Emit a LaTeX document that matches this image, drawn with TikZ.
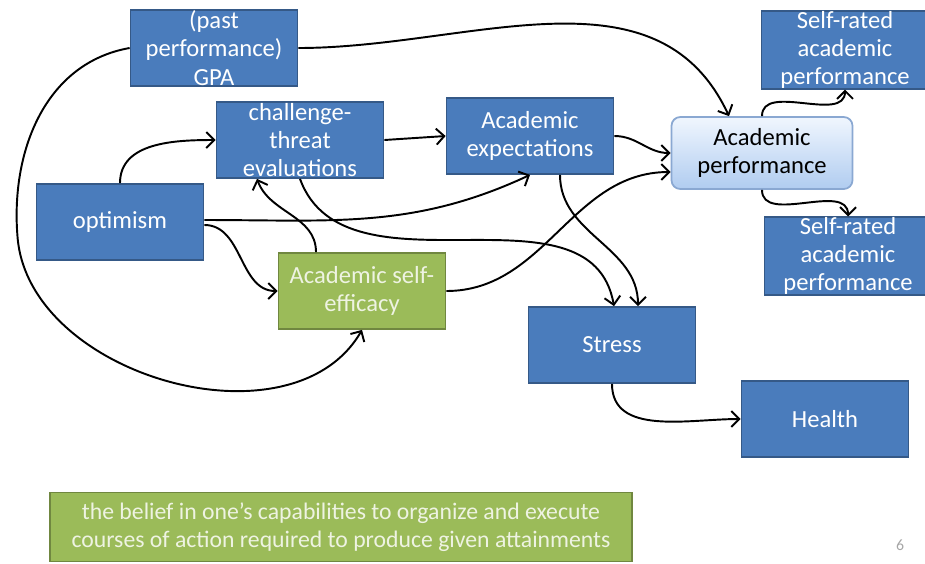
\documentclass[tikz,border=0pt]{standalone}
\usepackage{fontspec}
\setmainfont{Carlito}
\usepackage{tikz}
\usetikzlibrary{arrows.meta, positioning, shadings}
\definecolor{boxblue}{RGB}{74,124,188}
\definecolor{boxgreen}{RGB}{155,187,89}
\definecolor{paletext}{RGB}{238,243,226}
\definecolor{perftop}{RGB}{240,246,254}
\definecolor{perfbottom}{RGB}{176,204,240}
\definecolor{perfline}{RGB}{138,168,210}

\begin{document}
\begin{tikzpicture}[
    x=0.2mm, y=-0.2mm,
    every node/.style={font=\fontsize{14}{16}\selectfont},
    block/.style={rectangle, draw=#1!72!black, fill=#1, line width=1pt, minimum width=3.34cm, minimum height=1.52cm, inner sep=0pt, align=center, text=white},
    perfbox/.style={rectangle, rounded corners=5pt, draw=perfline, line width=1pt, top color=perftop, bottom color=perfbottom, minimum width=3.62cm, minimum height=1.44cm, inner sep=0pt, align=center, text=black},
    arrow/.style={-{Straight Barb[length=1.6mm,width=3.2mm]}, line width=1.1pt}
]
\useasboundingbox (0,0) rectangle (925,563);
\clip (0,0) rectangle (925,563);

\node[block=boxblue] (gpa) at (214,48) {(past\\performance)\\GPA};
\node[block=boxblue] (threat) at (300,140) {challenge-\\threat\\evaluations};
\node[block=boxblue] (optimism) at (120,222) {optimism};
\node[block=boxblue] (expect) at (530,136) {Academic\\expectations};
\node[perfbox] (perf) at (762,153) {Academic\\performance};
\node[block=boxblue] (selftop) at (845,50) {Self-rated\\academic\\performance};
\node[block=boxblue] (selfbot) at (848,256) {Self-rated\\academic\\performance};
\node[block=boxgreen, text=paletext] (efficacy) at (362,291) {Academic self-\\efficacy};
\node[block=boxblue] (stress) at (612,345) {Stress};
\node[block=boxblue] (health) at (825,419) {Health};

\node[block=boxgreen, text=paletext, minimum width=11.64cm, minimum height=1.38cm, font=\fontsize{13.5}{16}\selectfont] (belief) at (341,527)
    {the belief in one's capabilities to organize and execute\\courses of action required to produce given attainments};
\node[text=gray!70, font=\fontsize{9}{10}\selectfont] (pagenum) at (900,545) {6};

\draw[arrow] (gpa.west) to[out=190,in=95] ++(-112,190) to[out=-85,in=-120] (efficacy.south);
\draw[arrow] (gpa.east) to[out=0,in=115] ([xshift=-0.66cm]perf.north);
\draw[arrow] (optimism.north) to[out=90,in=180] (threat.west);
\draw[arrow] ([yshift=0.04cm]optimism.east) to[out=0,in=-155] (expect.south);
\draw[arrow] ([yshift=-0.06cm]optimism.east) to[out=0,in=180] (efficacy.west);
\draw[arrow] ([xshift=-0.92cm]efficacy.north) to[out=90,in=-70] ([xshift=-0.86cm]threat.south);
\draw[arrow] (threat.east) -- (expect.west);
\draw[arrow] (threat.south) to[out=-70,in=100] ([xshift=0.04cm]stress.north);
\draw[arrow] ([xshift=0.6cm]expect.south) to[out=-90,in=90] ([xshift=0.52cm]stress.north);
\draw[arrow] (expect.east) to[out=0,in=180] (perf.west);
\draw[arrow] (efficacy.east) to[out=0,in=180] ([yshift=-0.38cm]perf.west);
\draw[arrow] (perf.north) to[out=90,in=-90] (selftop.south);
\draw[arrow] (perf.south) to[out=-90,in=90] (selfbot.north);
\draw[arrow] (stress.south) to[out=-90,in=180] (health.west);

\end{tikzpicture}
\end{document}
